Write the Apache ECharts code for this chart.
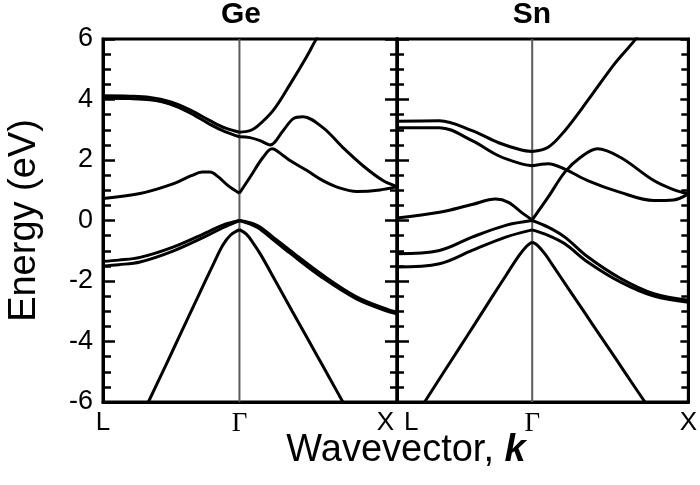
<!DOCTYPE html>
<html>
<head>
<meta charset="utf-8">
<script src="https://cdn.jsdelivr.net/npm/echarts@6/dist/echarts.min.js"></script>
<style>
html,body{margin:0;padding:0;background:#fff;}
#chart{width:700px;height:485px;}
</style>
</head>
<body>
<div id="chart"></div>
<script>
// ---- axis definitions ----
const K_L = 0, K_GAMMA = 0.866, K_X = 1.866;
const xTickValues = [K_L, K_GAMMA, K_X];
const xTickNames = ['L', 'Γ', 'X'];
const yMin = -6, yMax = 6, yStep = 2;
const panelTitles = ['Ge', 'Sn'];
const yAxisName = 'Energy (eV)';
const xAxisNameText = 'Wavevector, ';
const xAxisNameK = 'k';

// ---- Ge bands [k, E(eV)] ----
const geVB1_LG = [[0,-1.35],[0.1,-1.31],[0.235,-1.22],[0.444,-0.88],[0.66,-0.39],[0.76,-0.15],[0.866,0]];
const geVB2_LG = [[0,-1.5],[0.1,-1.46],[0.235,-1.37],[0.444,-1.01],[0.66,-0.5],[0.76,-0.24],[0.866,0]];
const geVB1_GX = [[0.866,0],[0.977,-0.16],[1.079,-0.55],[1.187,-0.99],[1.396,-1.81],[1.612,-2.53],[1.822,-2.97],[1.866,-3.02]];
const geVB2_GX = [[0.866,0],[0.977,-0.22],[1.079,-0.63],[1.187,-1.08],[1.396,-1.9],[1.612,-2.6],[1.822,-3.03],[1.866,-3.08]];
const geSO_LG = [[0.2,-6.97],[0.288,-6.0],[0.4,-4.77],[0.5,-3.66],[0.6,-2.55],[0.7,-1.45],[0.76,-0.82],[0.81,-0.48],[0.866,-0.3]];
const geSO_GX = [[0.866,-0.3],[0.91,-0.45],[0.95,-0.72],[1.0,-1.12],[1.1,-2.05],[1.2,-2.99],[1.3,-3.92],[1.4,-4.85],[1.5,-5.79],[1.6,-6.72]];
const geC1_LG = [[0,0.73],[0.235,0.89],[0.444,1.21],[0.56,1.48],[0.63,1.6],[0.68,1.6],[0.73,1.45],[0.79,1.17],[0.866,0.9]];
const geC1_GX = [[0.866,0.9],[0.933,1.43],[1.016,2.09],[1.073,2.37],[1.143,2.15],[1.187,1.98],[1.295,1.65],[1.396,1.32],[1.5,1.08],[1.612,0.96],[1.758,1.01],[1.866,1.12]];
const geC2_GX = [[0.866,2.77],[0.933,2.74],[0.997,2.64],[1.06,2.5],[1.143,2.97],[1.206,3.36],[1.269,3.43],[1.396,3.07],[1.523,2.41],[1.65,1.81],[1.777,1.32],[1.866,1.12]];
const geC3_LG = [[0,4.12],[0.171,4.11],[0.298,4.07],[0.425,3.93],[0.552,3.66],[0.679,3.3],[0.774,3.06],[0.866,2.92]];
const geC3_GX = [[0.866,2.92],[0.933,2.97],[0.977,3.1],[1.079,3.63],[1.187,4.5],[1.295,5.44],[1.346,5.93],[1.4,6.4]];
const geC2_LG = [[0,4.04],[0.171,4.03],[0.298,3.99],[0.425,3.85],[0.552,3.56],[0.679,3.18],[0.774,2.94],[0.866,2.77]];

// ---- Sn bands [k, E(eV)] ----
const snC3_LG = [[0,3.28],[0.272,3.3],[0.481,2.97],[0.651,2.57],[0.797,2.33],[0.866,2.28]];
const snC3_GX = [[0.866,2.28],[0.968,2.42],[1.075,2.97],[1.221,3.96],[1.392,5.17],[1.518,5.93],[1.6,6.5]];
const snC2_LG = [[0,3.07],[0.272,3.07],[0.481,2.64],[0.651,2.14],[0.797,1.87],[0.866,1.81]];
const snC2_GX = [[0.866,1.81],[0.968,1.88],[1.075,1.7],[1.221,1.32],[1.43,0.93],[1.645,0.66],[1.771,0.68],[1.866,0.88]];
const snC1_GX = [[0.866,0.02],[0.968,0.77],[1.075,1.6],[1.176,2.09],[1.284,2.37],[1.43,2.09],[1.645,1.32],[1.771,1.02],[1.866,0.88]];
const snC1_LG = [[0,0.08],[0.272,0.27],[0.481,0.53],[0.632,0.71],[0.714,0.6],[0.797,0.27],[0.866,0.02]];
const snVB1_LG = [[0,-1.1],[0.272,-0.99],[0.481,-0.55],[0.696,-0.16],[0.866,0]];
const snVB2_LG = [[0,-1.54],[0.272,-1.43],[0.481,-0.99],[0.696,-0.55],[0.866,-0.31]];
const snVB1_GX = [[0.866,0],[0.968,-0.22],[1.075,-0.55],[1.221,-1.2],[1.43,-1.91],[1.645,-2.42],[1.866,-2.64]];
const snVB2_GX = [[0.866,-0.31],[0.968,-0.49],[1.075,-0.77],[1.221,-1.37],[1.43,-2.03],[1.645,-2.5],[1.866,-2.7]];
const snSO_LG = [[0.1,-6.62],[0.177,-6.0],[0.3,-5.01],[0.4,-4.21],[0.5,-3.41],[0.6,-2.6],[0.7,-1.8],[0.78,-1.17],[0.83,-0.85],[0.866,-0.71]];
const snSO_GX = [[0.866,-0.71],[0.9,-0.82],[0.95,-1.12],[1.0,-1.5],[1.1,-2.27],[1.2,-3.03],[1.3,-3.8],[1.4,-4.56],[1.5,-5.33],[1.6,-6.09],[1.7,-6.86]];

const geBands = [geVB1_LG, geVB2_LG, geVB1_GX, geVB2_GX, geSO_LG, geSO_GX, geC1_LG, geC1_GX, geC2_GX, geC2_LG, geC3_LG, geC3_GX];
const snBands = [snC3_LG, snC3_GX, snC2_LG, snC2_GX, snC1_GX, snC1_LG, snVB1_LG, snVB2_LG, snVB1_GX, snVB2_GX, snSO_LG, snSO_GX];

const FONT = '"Liberation Sans", Arial, Helvetica, sans-serif';

function bandSeries(data, gi) {
  return {
    type: 'line', xAxisIndex: gi, yAxisIndex: gi * 2, data: data,
    symbol: 'none', showSymbol: false, smooth: 0.35, clip: true, silent: true, z: 3,
    lineStyle: { color: '#000', width: 3 }
  };
}
function gammaSeries(gi) {
  return {
    type: 'line', xAxisIndex: gi, yAxisIndex: gi * 2,
    data: [[K_GAMMA, yMin], [K_GAMMA, yMax]],
    symbol: 'none', silent: true, z: 1,
    lineStyle: { color: '#5a5a5a', width: 2 }
  };
}

function xAxisFor(gi) {
  return {
    type: 'value', gridIndex: gi, min: K_L, max: K_X,
    axisLine: { show: true, onZero: false, lineStyle: { color: '#000', width: 3 } },
    axisTick: { show: false },
    splitLine: { show: false },
    axisLabel: {
      customValues: xTickValues,
      margin: 8,
      color: '#000',
      fontFamily: FONT,
      fontSize: 26,
      alignMinLabel: gi === 0 ? 'center' : 'left',
      alignMaxLabel: gi === 0 ? 'right' : 'center',
      formatter: function (v) {
        let i = xTickValues.findIndex(t => Math.abs(t - v) < 1e-6);
        if (i < 0) return '';
        if (i === 1) return '{g|' + xTickNames[i] + '}';
        if (i === 0 && gi === 1) return '{l|' + xTickNames[i] + '}';
        if (i === 2 && gi === 0) return '{r|' + xTickNames[i] + '}';
        return xTickNames[i];
      },
      rich: {
        g: { fontFamily: '"Liberation Serif", "Times New Roman", serif', fontSize: 27, color: '#000' },
        l: { padding: [0, 0, 0, 7], fontFamily: FONT, fontSize: 26, color: '#000' },
        r: { padding: [0, 3, 0, 0], fontFamily: FONT, fontSize: 26, color: '#000' }
      }
    }
  };
}

function yAxisFor(gi, pos, showLabel, majorLen, minorLen) {
  const ax = {
    type: 'value', gridIndex: gi, position: pos, min: yMin, max: yMax, interval: yStep,
    axisLine: { show: true, onZero: false, lineStyle: { color: '#000', width: 3 } },
    axisTick: { show: true, inside: true, length: majorLen, lineStyle: { color: '#000', width: 2.5 } },
    minorTick: { show: true, splitNumber: 4, length: minorLen, lineStyle: { color: '#000', width: 2.5 } },
    splitLine: { show: false },
    axisLabel: { show: showLabel, color: '#000', fontFamily: FONT, fontSize: 27, margin: 10 }
  };
  if (showLabel) {
    ax.name = yAxisName;
    ax.nameLocation = 'middle';
    ax.nameGap = 59;
    ax.nameTextStyle = { color: '#000', fontFamily: FONT, fontSize: 38 };
  }
  return ax;
}

const series = [gammaSeries(0), gammaSeries(1)];
geBands.forEach(b => series.push(bandSeries(b, 0)));
snBands.forEach(b => series.push(bandSeries(b, 1)));

const chart = echarts.init(document.getElementById('chart'), null, { renderer: 'canvas' });
chart.setOption({
  animation: false,
  backgroundColor: '#fff',
  title: [
    { text: panelTitles[0], left: 241, top: 0, textAlign: 'center', padding: 0,
      textStyle: { fontFamily: FONT, fontWeight: 'bold', fontSize: 30, color: '#000' } },
    { text: panelTitles[1], left: 532, top: 0, textAlign: 'center', padding: 0,
      textStyle: { fontFamily: FONT, fontWeight: 'bold', fontSize: 30, color: '#000' } },
    { text: '{n|' + xAxisNameText + '}{k|' + xAxisNameK + '}', left: 406, top: 432, textAlign: 'center', padding: 0,
      textStyle: { fontWeight: 'normal', rich: {
        n: { fontFamily: FONT, fontSize: 38, fontWeight: 'normal', color: '#000' },
        k: { fontFamily: FONT, fontSize: 38, fontWeight: 'bold', fontStyle: 'italic', color: '#000' }
      } } }
  ],
  grid: [
    { left: 103, top: 39, width: 294, height: 363, show: true, borderColor: '#000', borderWidth: 3, containLabel: false },
    { left: 397, top: 39, width: 295, height: 363, show: true, borderColor: '#000', borderWidth: 3, containLabel: false }
  ],
  xAxis: [xAxisFor(0), xAxisFor(1)],
  yAxis: [
    yAxisFor(0, 'left', true, 12, 8),
    yAxisFor(0, 'right', false, 12, 7),
    yAxisFor(1, 'left', false, 12, 7),
    yAxisFor(1, 'right', false, 8, 7)
  ],
  series: series
});
</script>
</body>
</html>
